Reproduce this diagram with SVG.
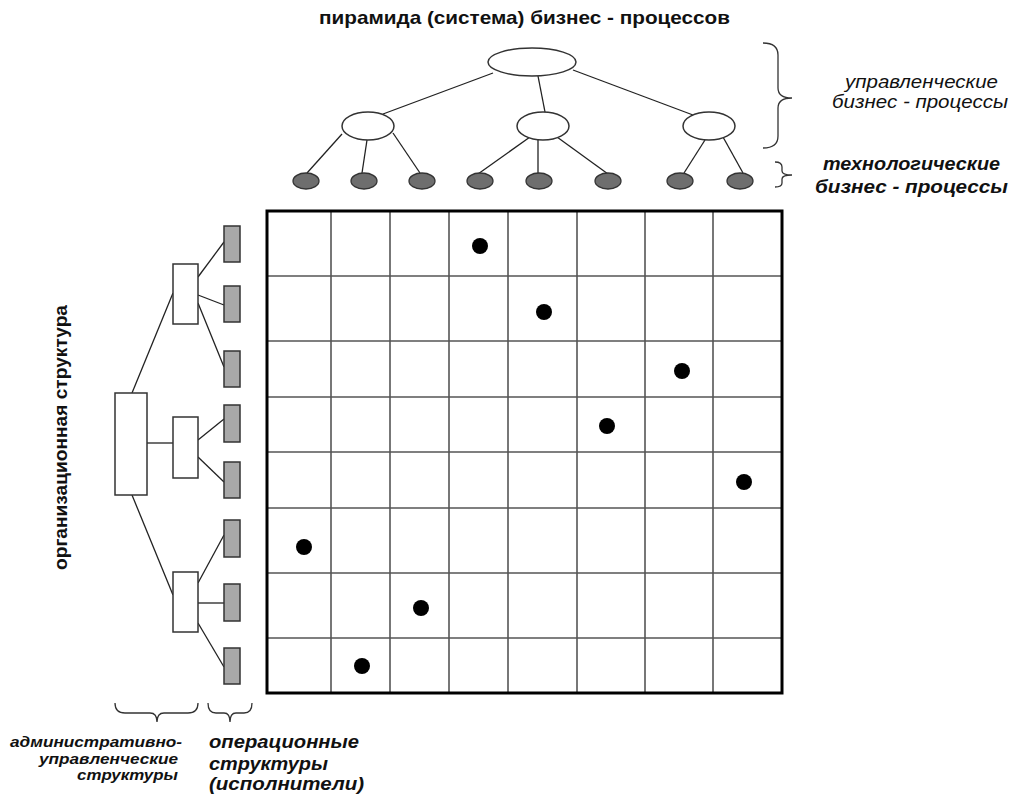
<svg xmlns="http://www.w3.org/2000/svg" width="1011" height="798" viewBox="0 0 1011 798">
<style>
.ln{stroke:#222;stroke-width:1.3;fill:none}
.wn{fill:#fff;stroke:#333;stroke-width:1.5}
.gn{fill:#6e6e6e;stroke:#333;stroke-width:1.3}
.gr{fill:#a8a8a8;stroke:#333;stroke-width:1.5}
.grid{stroke:#555;stroke-width:1.6}
.br{fill:none;stroke:#333;stroke-width:1.3}
.dot{fill:#000}
text{font-family:"Liberation Sans",Arial,sans-serif;fill:#111}
.b{font-weight:bold}
.i{font-style:italic}
</style>
<rect width="1011" height="798" fill="#fff"/>
<text class="b" x="319" y="24" font-size="19" textLength="411" lengthAdjust="spacingAndGlyphs">пирамида (система) бизнес - процессов</text>
<g id="connectors">
<line class="ln" x1="493" y1="73" x2="383" y2="114"/>
<line class="ln" x1="538" y1="76" x2="545" y2="112"/>
<line class="ln" x1="573" y1="70" x2="693" y2="115"/>
<line class="ln" x1="342" y1="134" x2="307" y2="173"/>
<line class="ln" x1="367" y1="140" x2="362" y2="173"/>
<line class="ln" x1="393" y1="133" x2="420" y2="173"/>
<line class="ln" x1="530" y1="137" x2="478" y2="174"/>
<line class="ln" x1="538" y1="140" x2="538" y2="173"/>
<line class="ln" x1="557" y1="137" x2="608" y2="174"/>
<line class="ln" x1="705" y1="140" x2="684" y2="173"/>
<line class="ln" x1="723" y1="137" x2="743" y2="173"/>
<line class="ln" x1="132" y1="393" x2="173" y2="293"/>
<line class="ln" x1="147" y1="443" x2="173" y2="443"/>
<line class="ln" x1="132" y1="495" x2="173" y2="595"/>
<line class="ln" x1="198" y1="277" x2="224" y2="242"/>
<line class="ln" x1="198" y1="295" x2="224" y2="305"/>
<line class="ln" x1="198" y1="303" x2="224" y2="367"/>
<line class="ln" x1="198" y1="440" x2="224" y2="419"/>
<line class="ln" x1="198" y1="457" x2="224" y2="482"/>
<line class="ln" x1="198" y1="583" x2="224" y2="535"/>
<line class="ln" x1="198" y1="603" x2="224" y2="603"/>
<line class="ln" x1="198" y1="623" x2="224" y2="667"/>
</g>
<g id="top-root"><ellipse class="wn" cx="532" cy="62" rx="44" ry="14"/></g>
<g id="top-mid1"><ellipse class="wn" cx="368" cy="126" rx="26" ry="14"/></g>
<g id="top-mid2"><ellipse class="wn" cx="543" cy="126" rx="26" ry="14"/></g>
<g id="top-mid3"><ellipse class="wn" cx="709" cy="126" rx="26" ry="14"/></g>
<g id="leaf1"><ellipse class="gn" cx="306" cy="181" rx="13" ry="8"/></g>
<g id="leaf2"><ellipse class="gn" cx="364" cy="181" rx="13" ry="8"/></g>
<g id="leaf3"><ellipse class="gn" cx="422" cy="181" rx="13" ry="8"/></g>
<g id="leaf4"><ellipse class="gn" cx="480" cy="181" rx="13" ry="8"/></g>
<g id="leaf5"><ellipse class="gn" cx="539" cy="181" rx="13" ry="8"/></g>
<g id="leaf6"><ellipse class="gn" cx="608" cy="181" rx="13" ry="8"/></g>
<g id="leaf7"><ellipse class="gn" cx="680" cy="181" rx="13" ry="8"/></g>
<g id="leaf8"><ellipse class="gn" cx="740" cy="181" rx="13" ry="8"/></g>
<g id="braces">
<path class="br" d="M763,43 Q778,43 778,55 L778,88 Q778,98 792,98 Q778,98 778,108 L778,136 Q778,148 763,148"/>
<path class="br" d="M775,162 Q782,162 782,167 L782,171 Q782,175 792,175 Q782,175 782,179 L782,183 Q782,187 775,187"/>
<path class="br" d="M115,703 Q115,713 125,713 L150,713 Q157,713 157,722 Q157,713 164,713 L188,713 Q198,713 198,703"/>
<path class="br" d="M208,703 Q208,713 216,713 L224,713 Q230,713 230,722 Q230,713 236,713 L244,713 Q252,713 252,703"/>
</g>
<g id="labels-right">
<text class="i" x="845" y="88" font-size="18" textLength="153" lengthAdjust="spacingAndGlyphs">управленческие</text>
<text class="i" x="832" y="108" font-size="18" textLength="176" lengthAdjust="spacingAndGlyphs">бизнес - процессы</text>
<text class="b i" x="823" y="170" font-size="18" textLength="177" lengthAdjust="spacingAndGlyphs">технологические</text>
<text class="b i" x="815" y="193" font-size="18" textLength="193" lengthAdjust="spacingAndGlyphs">бизнес - процессы</text>
</g>
<g id="org-label"><text class="b" x="-570" y="67" font-size="19" textLength="265" lengthAdjust="spacingAndGlyphs" transform="rotate(-90)">организационная структура</text></g>
<g id="org-root"><rect class="wn" x="115" y="393" width="32" height="102"/></g>
<g id="org-mid1"><rect class="wn" x="173" y="264" width="25" height="60"/></g>
<g id="org-mid2"><rect class="wn" x="173" y="417" width="25" height="61"/></g>
<g id="org-mid3"><rect class="wn" x="173" y="572" width="25" height="60"/></g>
<g id="op1"><rect class="gr" x="224" y="226" width="16" height="36"/></g>
<g id="op2"><rect class="gr" x="224" y="286" width="16" height="36"/></g>
<g id="op3"><rect class="gr" x="224" y="351" width="16" height="36"/></g>
<g id="op4"><rect class="gr" x="224" y="405" width="16" height="37"/></g>
<g id="op5"><rect class="gr" x="224" y="462" width="16" height="36"/></g>
<g id="op6"><rect class="gr" x="224" y="520" width="16" height="37"/></g>
<g id="op7"><rect class="gr" x="224" y="584" width="16" height="37"/></g>
<g id="op8"><rect class="gr" x="224" y="648" width="16" height="36"/></g>
<g id="matrix">
<g class="grid">
<line x1="331" y1="211" x2="331" y2="693"/>
<line x1="390" y1="211" x2="390" y2="693"/>
<line x1="449" y1="211" x2="449" y2="693"/>
<line x1="508" y1="211" x2="508" y2="693"/>
<line x1="577" y1="211" x2="577" y2="693"/>
<line x1="645" y1="211" x2="645" y2="693"/>
<line x1="713" y1="211" x2="713" y2="693"/>
<line x1="267" y1="276" x2="782" y2="276"/>
<line x1="267" y1="341" x2="782" y2="341"/>
<line x1="267" y1="397" x2="782" y2="397"/>
<line x1="267" y1="452" x2="782" y2="452"/>
<line x1="267" y1="508" x2="782" y2="508"/>
<line x1="267" y1="573" x2="782" y2="573"/>
<line x1="267" y1="638" x2="782" y2="638"/>
</g>
<rect x="267" y="211" width="515" height="482" fill="none" stroke="#000" stroke-width="3"/>
<circle class="dot" cx="480" cy="246" r="8"/>
<circle class="dot" cx="544" cy="312" r="8"/>
<circle class="dot" cx="682" cy="371" r="8"/>
<circle class="dot" cx="607" cy="426" r="8"/>
<circle class="dot" cx="744" cy="482" r="8"/>
<circle class="dot" cx="304" cy="547" r="8"/>
<circle class="dot" cx="421" cy="608" r="8"/>
<circle class="dot" cx="362" cy="666" r="8"/>
</g>
<g id="labels-bottom">
<text class="b i" x="10" y="747" font-size="15" textLength="172" lengthAdjust="spacingAndGlyphs">административно-</text>
<text class="b i" x="39" y="764" font-size="15" textLength="139" lengthAdjust="spacingAndGlyphs">управленческие</text>
<text class="b i" x="77" y="780" font-size="15" textLength="101" lengthAdjust="spacingAndGlyphs">структуры</text>
<text class="b i" x="209" y="748" font-size="19" textLength="150" lengthAdjust="spacingAndGlyphs">операционные</text>
<text class="b i" x="209" y="770" font-size="19" textLength="119" lengthAdjust="spacingAndGlyphs">структуры</text>
<text class="b i" x="209" y="790" font-size="19" textLength="155" lengthAdjust="spacingAndGlyphs">(исполнители)</text>
</g>
</svg>
